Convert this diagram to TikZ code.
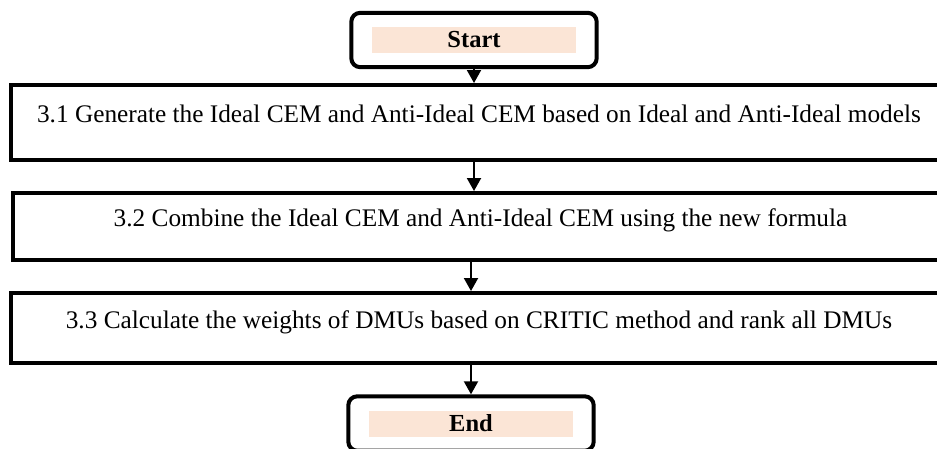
\documentclass[tikz,border=0pt]{standalone}
\usepackage{fontspec}
\setmainfont{Liberation Serif}
\usetikzlibrary{arrows.meta,fit}
\definecolor{peach}{RGB}{251,229,214}

\begin{document}
\begin{tikzpicture}[
    x=1pt, y=-1pt,
    stepbox/.style={
        rectangle,
        draw,
        line width=4pt,
        minimum width=936pt,
        inner sep=0pt,
        text height=16pt,
        text depth=16pt,
        font=\fontsize{25.3}{29}\selectfont
    },
    termlbl/.style={
        rectangle,
        fill=peach,
        minimum width=204pt,
        minimum height=26pt,
        inner sep=0pt,
        font=\fontsize{24.5}{28}\selectfont\bfseries
    },
    termbox/.style={
        rectangle,
        draw,
        line width=4pt,
        rounded corners=9pt,
        inner xsep=20.5pt,
        inner ysep=14pt
    },
    flow/.style={-{Triangle[width=14pt,length=13pt]}, line width=2pt}
]
\useasboundingbox (0,0) rectangle (937,448);
\clip (0,0) rectangle (937,448);

% Start
\node[termlbl] (startlbl) at (474,40) {Start};
\node[termbox, fit=(startlbl)] (start) {};

% Steps
\node[stepbox, minimum height=75pt] (s1) at (479,122.5)
    {3.1 Generate the Ideal CEM and Anti-Ideal CEM based on Ideal and Anti-Ideal models};
\node[stepbox, minimum height=67pt] (s2) at (480.5,226.5)
    {3.2 Combine the Ideal CEM and Anti-Ideal CEM using the new formula};
\node[stepbox, minimum height=70pt] (s3) at (479,328)
    {3.3 Calculate the weights of DMUs based on CRITIC method and rank all DMUs};

% End
\node[termlbl] (stoplbl) at (471,423.5) {End};
\node[termbox, fit=(stoplbl)] (stop) {};

\draw[flow] (start.south) -- (start.south |- s1.north);
\draw[flow] (s1.south -| start.south) -- (s2.north -| start.south);
\draw[flow] (s2.south -| stop.north) -- (s3.north -| stop.north);
\draw[flow] (s3.south -| stop.north) -- (stop.north);

\end{tikzpicture}
\end{document}
